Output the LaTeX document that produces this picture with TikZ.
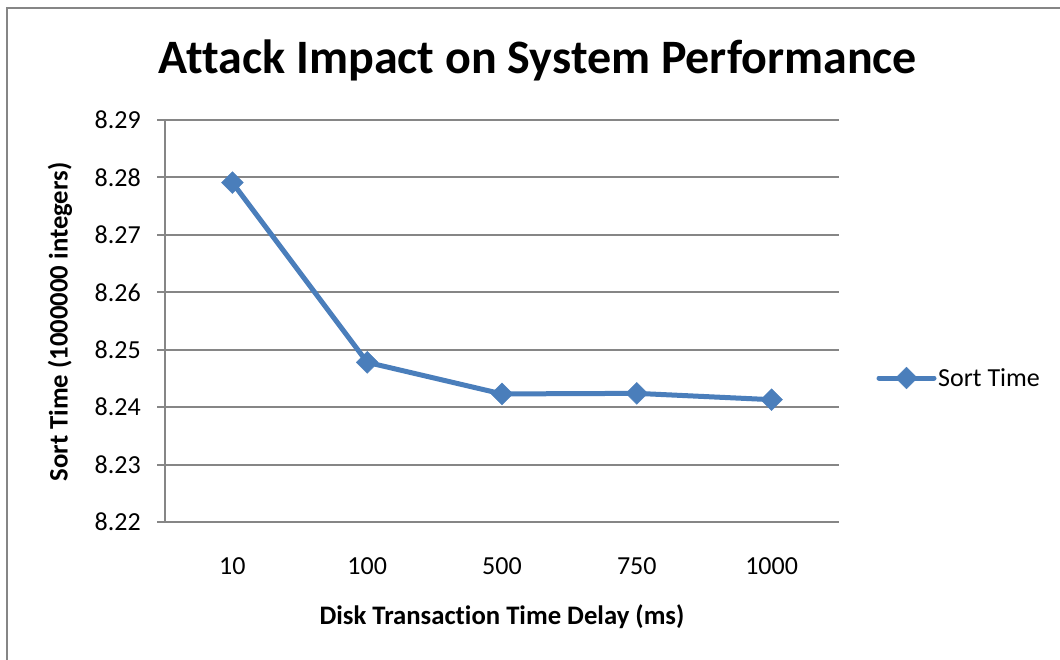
\documentclass[tikz,border=0pt]{standalone}
\usepackage{fontspec}
\setmainfont[Ligatures={NoCommon}]{Carlito}
\usetikzlibrary{shapes.geometric}
\definecolor{framegray}{HTML}{868686}
\definecolor{seriesblue}{HTML}{4A7EBB}
\begin{document}
\begin{tikzpicture}[x=1pt,y=-1pt,
  gridline/.style={draw=framegray,line width=2pt},
  ticklbl/.style={font=\fontsize{26}{30}\selectfont,inner sep=0pt},
  axistitle/.style={font=\fontsize{26.7}{30}\selectfont\bfseries,inner sep=0pt},
  serie/.style={draw=seriesblue,line width=5pt,line join=round},
  diam/.style={diamond,fill=seriesblue,draw=seriesblue,inner sep=0pt,minimum width=22pt,minimum height=22pt}]
\useasboundingbox (0,0) rectangle (1060,659);
\fill[white] (0,0) rectangle (1060,659);
% outer chart frame
\draw[framegray,line width=2pt] (7,670) -- (7,8) -- (1070,8);
% title
\node[font=\fontsize{48}{56}\selectfont\bfseries,inner sep=0pt] (title) at (538,60) {Attack Impact on System Performance};
% horizontal grid lines and y labels
\foreach \i/\v in {0/8.22,1/8.23,2/8.24,3/8.25,4/8.26,5/8.27,6/8.28,7/8.29}{
  \draw[gridline] (157,{522-57.43*\i}) -- (839,{522-57.43*\i});
  \node[ticklbl,anchor=east] (y\i) at (141,{522-57.43*\i}) {\v};
}
% vertical axis
\draw[gridline] (165,120) -- (165,522);
% category labels
\foreach \j/\c in {0/10,1/100,2/500,3/750,4/1000}{
  \node[ticklbl] (x\j) at ({232.4+134.8*\j},566) {\c};
}
% axis titles
\node[axistitle] (xt) at (502,617) {Disk Transaction Time Delay (ms)};
\node[axistitle,rotate=90] (yt) at (60,322) {Sort Time (1000000 integers)};
% data points
\coordinate (p0) at (232.4,{522-57.43*5.91});
\coordinate (p1) at (367.2,{522-57.43*2.78});
\coordinate (p2) at (502.0,{522-57.43*2.23});
\coordinate (p3) at (636.8,{522-57.43*2.24});
\coordinate (p4) at (771.6,{522-57.43*2.13});
\draw[serie] (p0) -- (p1) -- (p2) -- (p3) -- (p4);
\foreach \k in {0,...,4}{ \node[diam] (m\k) at (p\k) {}; }
% legend
\coordinate (la) at (879,378);
\coordinate (lb) at (934,378);
\draw[serie,line cap=round] (la) -- (lb);
\node[diam] (lm) at (906.5,378) {};
\node[ticklbl,anchor=west] (lt) at (938,378) {Sort Time};
\end{tikzpicture}
\end{document}
